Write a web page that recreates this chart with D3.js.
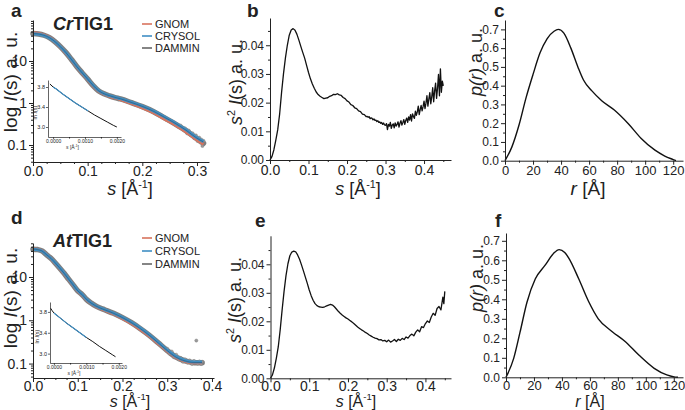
<!DOCTYPE html>
<html><head><meta charset="utf-8">
<script src="https://cdn.jsdelivr.net/npm/d3@7"></script>
<style>
body{margin:0;background:#fff;}
svg{display:block;}
text{font-family:"Liberation Sans",Arial,Helvetica,sans-serif;fill:#222;}
</style>
</head><body>
<svg id="fig" width="685" height="410"></svg>
<script>
// ---------------- DATA ----------------
const legendNames = ["GNOM", "CRYSOL", "DAMMIN"];
const titles = ["Cr", "At"];
const logTicks = [0.1, 1, 10];
const sTicksA = [0, 0.1, 0.2, 0.3];
const sTicksD = [0, 0.1, 0.2, 0.3, 0.4];
const kratkyYTicks = [0, 0.01, 0.02, 0.03, 0.04];
const kratkyXTicks = [0, 0.1, 0.2, 0.3, 0.4];
const prXTicks = [0, 20, 40, 60, 80, 100, 120];
const prYTicks = [0, 0.1, 0.2, 0.3, 0.4, 0.5, 0.6, 0.7];
const insetXTicks = [0, 0.001, 0.002];
const insetYTicks = [3.0, 3.4, 3.8];

// panel a: CrTIG1 scattering
const sA = [0,0.01,0.02,0.03,0.04,0.05,0.06,0.07,0.08,0.09,0.10,0.11,0.12,0.13,0.14,0.15,0.16,0.18,0.20,0.22,0.24,0.26,0.28,0.30,0.312];
const expA = [45,44,41,36,29,22,16,11,7.4,5.2,3.7,2.6,1.95,1.65,1.48,1.35,1.25,1.02,0.82,0.63,0.45,0.32,0.22,0.14,0.11];
const gnomA = [47,45.5,42,36.5,29,21.5,15.5,10.8,7.3,5.1,3.6,2.55,1.92,1.62,1.45,1.32,1.21,0.97,0.77,0.59,0.42,0.30,0.205,0.132,0.105];
const crysolA = [44.5,43.5,40.5,35.5,28.8,21.8,15.9,11,7.45,5.25,3.75,2.65,1.98,1.67,1.5,1.37,1.27,1.04,0.84,0.65,0.47,0.335,0.23,0.148,0.12];
const damminA = [45,44,41,36,29,22,16,11,7.4,5.2,3.7,2.62,1.96,1.66,1.49,1.36,1.26,1.03,0.83,0.64,0.46,0.33,0.225,0.145,0.118];
const tailA = [[0.270,0.29],[0.274,0.24],[0.278,0.25],[0.282,0.19],[0.285,0.22],[0.289,0.17],[0.292,0.19],[0.295,0.145],[0.298,0.17],[0.301,0.125],[0.304,0.15],[0.306,0.115],[0.308,0.135],[0.310,0.095],[0.312,0.125]];
const guinierA = [[-0.0001,3.86],[0.0000,3.80],[0.0001,3.76],[0.0003,3.66],[0.0005,3.57],[0.0007,3.48],[0.0009,3.40],[0.0011,3.32],[0.0013,3.24],[0.0015,3.17],[0.0017,3.10],[0.0019,3.03],[0.0020,3.00]];
const guinierFitA = [[0.0000,3.80],[0.0001,3.76],[0.0003,3.66],[0.0005,3.57],[0.0007,3.48],[0.0009,3.40],[0.0011,3.32]];

// panel d: AtTIG1 scattering
const sD = [0,0.01,0.02,0.03,0.04,0.05,0.06,0.07,0.08,0.09,0.10,0.11,0.12,0.13,0.14,0.15,0.16,0.18,0.20,0.22,0.24,0.26,0.28,0.30,0.32,0.34,0.36,0.378];
const expD = [44,43,40,33,27,21,16,12,8.8,6.5,4.8,3.9,3.0,2.5,2.15,1.92,1.75,1.45,1.15,0.88,0.64,0.45,0.30,0.20,0.14,0.115,0.105,0.105];
const gnomD = [44.5,43.5,40.5,33.2,27,20.8,15.8,11.9,8.7,6.45,4.75,3.85,2.97,2.48,2.12,1.88,1.71,1.41,1.1,0.84,0.61,0.43,0.29,0.195,0.138,0.113,0.104,0.104];
const crysolD = [43.5,42.8,39.8,33,27.1,21.2,16.1,12.1,8.9,6.55,4.85,3.95,3.03,2.52,2.17,1.94,1.77,1.47,1.17,0.9,0.66,0.46,0.31,0.205,0.145,0.118,0.108,0.108];
const damminD = [44,43,40,33,27,21,16,12,8.8,6.5,4.8,3.9,3.0,2.5,2.15,1.92,1.75,1.45,1.15,0.88,0.64,0.45,0.30,0.20,0.14,0.115,0.106,0.106];
const tailD = [[0.30,0.22],[0.305,0.17],[0.31,0.19],[0.315,0.14],[0.32,0.16],[0.325,0.125],[0.33,0.135],[0.335,0.11],[0.34,0.125],[0.345,0.105],[0.35,0.118],[0.355,0.098],[0.36,0.115],[0.365,0.34],[0.368,0.10],[0.372,0.112],[0.376,0.098],[0.378,0.11]];
const guinierD = [[-0.0001,3.87],[-0.00005,3.82],[0.0000,3.78],[0.0002,3.68],[0.0004,3.58],[0.0006,3.49],[0.0008,3.40],[0.0010,3.31],[0.0012,3.23],[0.0014,3.14],[0.0016,3.06],[0.0018,2.98],[0.0019,2.94]];
const guinierFitD = [[0.0000,3.78],[0.0002,3.68],[0.0004,3.58],[0.0006,3.49],[0.0008,3.40],[0.0010,3.31]];

// panel b: Kratky CrTIG1
const kratkyB = [[0,0],[0.005,0.0012],[0.01,0.0035],[0.015,0.0068],[0.02,0.0105],[0.025,0.016],[0.03,0.0235],[0.035,0.030],[0.04,0.0355],[0.045,0.040],[0.05,0.0435],[0.055,0.0453],[0.06,0.0458],[0.065,0.0452],[0.07,0.0438],[0.075,0.0418],[0.08,0.0396],[0.085,0.0375],[0.09,0.0355],[0.095,0.033],[0.1,0.0305],[0.105,0.0283],[0.11,0.0265],[0.115,0.025],[0.12,0.0237],[0.125,0.0228],[0.13,0.0222],[0.135,0.0218],[0.14,0.0214],[0.145,0.0216],[0.15,0.0217],[0.155,0.0222],[0.16,0.0224],[0.165,0.0229],[0.17,0.0228],[0.175,0.0231],[0.18,0.0227],[0.185,0.0225],[0.19,0.0218],[0.195,0.0214],[0.2,0.0206],[0.205,0.0202],[0.21,0.0193],[0.215,0.0190],[0.22,0.0182],[0.225,0.0179],[0.23,0.0171],[0.235,0.0169],[0.24,0.0160],[0.245,0.0158],[0.25,0.0151],
[0.2525,0.0152],[0.255,0.0149],[0.2575,0.0151],[0.26,0.0144],[0.2625,0.0147],[0.265,0.0145],[0.2675,0.0140],[0.27,0.0143],[0.2725,0.0138],[0.275,0.0139],[0.2775,0.0134],[0.28,0.0137],[0.2825,0.0131],[0.285,0.0133],[0.2875,0.0128],[0.29,0.0131],[0.2925,0.0124],[0.295,0.0129],[0.2975,0.0122],
[0.30,0.0121],[0.3025,0.0127],[0.305,0.0106],[0.3075,0.0124],[0.31,0.0118],[0.3125,0.0131],[0.315,0.0110],[0.3175,0.0122],[0.32,0.0126],[0.3225,0.0112],[0.325,0.0129],[0.3275,0.0118],[0.33,0.0124],[0.3325,0.0133],[0.335,0.0115],[0.3375,0.0128],[0.34,0.0137],[0.3425,0.0122],[0.345,0.0131],[0.3475,0.0141],[0.35,0.0124],[0.3525,0.0138],[0.355,0.0146],[0.3575,0.0131],[0.36,0.0150],[0.3625,0.0139],[0.365,0.0158],[0.3675,0.0136],[0.37,0.0161],[0.3725,0.0152],[0.375,0.0145],[0.3775,0.0170],[0.38,0.0156],[0.3825,0.0168],[0.385,0.0188],[0.3875,0.0158],[0.39,0.0176],[0.3925,0.0190],[0.395,0.0171],[0.3975,0.0186],[0.40,0.0205],[0.4025,0.0179],[0.405,0.0198],[0.4075,0.0224],[0.41,0.0188],[0.4125,0.0212],[0.415,0.0235],[0.4175,0.0196],[0.42,0.0220],[0.4225,0.0252],[0.425,0.0203],[0.4275,0.0241],[0.43,0.0268],[0.4325,0.0215],[0.435,0.0250],[0.4375,0.0298],[0.44,0.0224],[0.4425,0.0318],[0.445,0.0236],[0.4475,0.0275],[0.45,0.0258]];

// panel e: Kratky AtTIG1
const kratkyE = [[0,0],[0.005,0.0012],[0.01,0.0036],[0.015,0.0070],[0.02,0.0110],[0.025,0.0170],[0.03,0.0240],[0.035,0.0305],[0.04,0.0360],[0.045,0.0402],[0.05,0.0430],[0.055,0.0443],[0.06,0.0446],[0.065,0.0444],[0.07,0.0433],[0.075,0.0418],[0.08,0.0398],[0.085,0.0377],[0.09,0.0355],[0.095,0.0333],[0.10,0.0310],[0.105,0.0290],[0.11,0.0274],[0.115,0.0262],[0.12,0.0255],[0.125,0.0251],[0.13,0.0250],[0.135,0.0249],[0.14,0.0251],[0.145,0.0254],[0.15,0.0257],[0.155,0.0259],[0.16,0.0257],[0.165,0.0251],[0.17,0.0243],[0.175,0.0235],[0.18,0.0228],[0.185,0.0222],[0.19,0.0217],[0.195,0.0212],[0.20,0.0208],[0.205,0.0203],[0.21,0.0198],[0.215,0.0192],[0.22,0.0186],[0.225,0.0180],[0.23,0.0175],[0.235,0.0170],[0.24,0.0166],[0.245,0.0161],[0.25,0.0157],
[0.255,0.0152],[0.26,0.0148],[0.265,0.0144],[0.27,0.0141],[0.275,0.0139],[0.28,0.0135],[0.285,0.0136],[0.29,0.0131],[0.295,0.0133],[0.30,0.0128],[0.305,0.0134],[0.31,0.0127],[0.315,0.0131],[0.32,0.0136],[0.325,0.0129],[0.33,0.0137],[0.335,0.0133],[0.34,0.0140],[0.345,0.0136],[0.35,0.0145],[0.355,0.0141],[0.36,0.0150],[0.365,0.0155],[0.37,0.0149],[0.375,0.0162],[0.38,0.0170],[0.385,0.0163],[0.39,0.0181],[0.395,0.0178],[0.40,0.0192],[0.405,0.0201],[0.41,0.0196],[0.415,0.0215],[0.42,0.0228],[0.425,0.0221],[0.43,0.0245],[0.435,0.0252],[0.44,0.0240],[0.445,0.0285],[0.4475,0.0262],[0.45,0.0305]];

// panel c / f: pair distance distribution
const prC = [[0,0],[5,0.075],[10,0.19],[15,0.335],[20,0.46],[25,0.575],[30,0.65],[35,0.69],[38,0.7],[42,0.68],[47,0.6],[52,0.5],[56,0.43],[62,0.372],[69,0.32],[78,0.27],[88,0.197],[97,0.12],[107,0.056],[114,0.025],[120,0.006],[122,0]];
const prF = [[0,0],[5.5,0.097],[10,0.23],[15,0.385],[21,0.505],[28,0.575],[34,0.635],[38,0.655],[42,0.64],[45,0.61],[52,0.505],[59,0.39],[66,0.3],[76,0.234],[85,0.185],[95,0.114],[106,0.046],[115,0.012],[121,0.001],[123,0]];

// ---------------- DRAW ----------------
const FONT = '"Liberation Sans", Arial, Helvetica, sans-serif';
const INK = '#222';
const COL = {gnom:'#d8735d', crysol:'#3f8fc4', dammin:'#555', exp:'#7f7f7f'};
const svg = d3.select('#fig');

function styleAxis(g, fs) {
  g.attr('font-family', FONT).attr('font-size', fs);
  g.selectAll('path,line').attr('stroke', INK).attr('stroke-width', 1);
  g.selectAll('text').attr('fill', INK);
}
function xAxis(x, y0, major, minor, fmt, fs, base) {
  if (minor) {
    const gm = svg.append('g').attr('transform', `translate(0,${y0})`)
      .call(d3.axisBottom(x).tickValues(minor).tickSize(2).tickSizeOuter(0).tickFormat(''));
    gm.select('.domain').remove(); styleAxis(gm, fs);
  }
  const pad = base - 4 - 0.71 * fs;
  const g = svg.append('g').attr('transform', `translate(0,${y0})`)
    .call(d3.axisBottom(x).tickValues(major).tickSize(4).tickSizeOuter(0).tickPadding(pad).tickFormat(fmt));
  styleAxis(g, fs);
}
function yAxis(y, x0, major, minor, fmt, fs, pad) {
  if (minor) {
    const gm = svg.append('g').attr('transform', `translate(${x0},0)`)
      .call(d3.axisLeft(y).tickValues(minor).tickSize(2).tickSizeOuter(0).tickFormat(''));
    gm.select('.domain').remove(); styleAxis(gm, fs);
  }
  const g = svg.append('g').attr('transform', `translate(${x0},0)`)
    .call(d3.axisLeft(y).tickValues(major).tickSize(4).tickSizeOuter(0).tickPadding(pad).tickFormat(fmt));
  styleAxis(g, fs);
}
function letter(ch, x, y) {
  svg.append('text').attr('x', x).attr('y', y).attr('font-size', 19).attr('font-weight', 'bold').text(ch);
}
function sLabel(cx, y, fs, sym, unitSup) {
  const t = svg.append('text').attr('x', cx).attr('y', y).attr('text-anchor', 'middle').attr('font-size', fs);
  t.append('tspan').attr('font-style', 'italic').text(sym);
  t.append('tspan').text(' [Å');
  if (unitSup) {
    t.append('tspan').attr('dy', -fs * 0.38).attr('font-size', fs * 0.6).text(unitSup);
    t.append('tspan').attr('dy', fs * 0.38).text(']');
  } else t.append('tspan').text(']');
}
function rotLabel(cx, cy, fs, parts) {
  const t = svg.append('text').attr('transform', `translate(${cx},${cy}) rotate(-90)`)
    .attr('text-anchor', 'middle').attr('font-size', fs);
  parts.forEach(p => {
    const ts = t.append('tspan').text(p.t);
    if (p.i) ts.attr('font-style', 'italic');
    if (p.sup) ts.attr('dy', -fs * 0.38).attr('font-size', fs * 0.6);
    if (p.down) ts.attr('dy', fs * 0.38);
  });
}
function minorLog(dom) {
  const out = [];
  for (let e = -3; e <= 3; e++) for (let m = 2; m <= 9; m++) {
    const v = m * Math.pow(10, e);
    if (v >= dom[0] && v <= dom[1]) out.push(v);
  }
  return out;
}

function scatterPanel(o) {
  const x = d3.scaleLinear().domain(o.xDom).range(o.xRange);
  const y = d3.scaleLog().domain(o.yDom).range(o.yRange);
  const line = d3.line().x(d => x(d[0])).y(d => y(d[1])).curve(d3.curveMonotoneX);
  const zip = arr => o.s.map((s, i) => [s, arr[i]]);
  svg.append('path').datum(zip(o.exp)).attr('d', line).attr('fill', 'none')
    .attr('stroke', COL.exp).attr('stroke-width', 5.5).attr('stroke-linecap', 'round');
  svg.append('g').selectAll('circle').data(o.tail).join('circle')
    .attr('cx', d => x(d[0])).attr('cy', d => y(d[1])).attr('r', 1.6)
    .attr('fill', '#9a9a9a').attr('stroke', '#777').attr('stroke-width', 0.4);
  svg.append('path').datum(zip(o.gnom)).attr('d', line).attr('fill', 'none')
    .attr('stroke', COL.gnom).attr('stroke-width', 3);
  svg.append('path').datum(zip(o.crysol)).attr('d', line).attr('fill', 'none')
    .attr('stroke', COL.crysol).attr('stroke-width', 3);
  svg.append('path').datum(zip(o.dammin)).attr('d', line).attr('fill', 'none')
    .attr('stroke', '#2c4050').attr('stroke-width', 0.8).attr('stroke-opacity', 0.6);
  const minorX = d3.range(0, o.xDom[1] + 1e-9, 0.025).filter(v => Math.abs(v * 10 - Math.round(v * 10)) > 1e-6);
  xAxis(x, o.yRange[0], o.xTicks, minorX, d3.format('.1f'), 14, o.tickBase);
  yAxis(y, o.xRange[0], logTicks, minorLog(o.yDom), d => d < 1 ? '0.1' : String(d), 14, 2);
  const tt = svg.append('text').attr('x', o.titleX).attr('y', o.titleY).attr('font-size', 18).attr('font-weight', 'bold');
  tt.append('tspan').attr('font-style', 'italic').text(o.title);
  tt.append('tspan').text('TIG1');
  const lc = [COL.gnom, COL.crysol, '#666'];
  legendNames.forEach((n, i) => {
    const ly = o.legY + i * o.legDy;
    svg.append('line').attr('x1', 142).attr('x2', 152).attr('y1', ly).attr('y2', ly)
      .attr('stroke', lc[i]).attr('stroke-width', 1.6);
    svg.append('text').attr('x', 155).attr('y', ly + 4).attr('font-size', 11).text(n);
  });
  // inset (Guinier plot)
  const ix = d3.scaleLinear().domain(o.inXDom).range(o.inXRange);
  const iy = d3.scaleLinear().domain(o.inYDom).range(o.inYRange);
  const il = d3.line().x(d => ix(d[0])).y(d => iy(d[1]));
  svg.append('path').datum(o.guinier).attr('d', il).attr('fill', 'none').attr('stroke', '#111').attr('stroke-width', 1);
  svg.append('path').datum(o.guinierFit).attr('d', il).attr('fill', 'none').attr('stroke', COL.crysol).attr('stroke-width', 1.1);
  const gx = svg.append('g').attr('transform', `translate(0,${o.inYRange[0]})`)
    .call(d3.axisBottom(ix).tickValues(insetXTicks).tickSize(2).tickSizeOuter(0).tickPadding(0.5).tickFormat(d3.format('.4f')));
  styleAxis(gx, 5);
  const gxm = svg.append('g').attr('transform', `translate(0,${o.inYRange[0]})`)
    .call(d3.axisBottom(ix).tickValues([0.0005, 0.0015]).tickSize(1.5).tickSizeOuter(0).tickFormat(''));
  gxm.select('.domain').remove(); styleAxis(gxm, 5);
  const gy = svg.append('g').attr('transform', `translate(${o.inXRange[0]},0)`)
    .call(d3.axisLeft(iy).tickValues(insetYTicks).tickSize(2).tickSizeOuter(0).tickPadding(1).tickFormat(d3.format('.1f')));
  styleAxis(gy, 5.5);
  gx.selectAll('path,line').attr('stroke-width', 0.7);
  gy.selectAll('path,line').attr('stroke-width', 0.7);
  const xl = svg.append('text').attr('x', (o.inXRange[0] + o.inXRange[1]) / 2 - 12).attr('y', o.inYRange[0] + 11.5).attr('font-size', 5).attr('text-anchor', 'middle');
  xl.append('tspan').attr('font-style', 'italic').text('s');
  xl.append('tspan').text(' [Å');
  xl.append('tspan').attr('dy', -2).attr('font-size', 3.2).text('-1');
  xl.append('tspan').attr('dy', 2).text(']');
  const yl = svg.append('text').attr('transform', `translate(${o.inXRange[0] - 11},${(o.inYRange[0] + o.inYRange[1]) / 2 + 4}) rotate(-90)`)
    .attr('font-size', 5.5).attr('text-anchor', 'middle');
  yl.append('tspan').text('ln ');
  yl.append('tspan').attr('font-style', 'italic').text('I');
  yl.append('tspan').text('(s)');
  rotLabel(o.yLabX, o.yLabY, 19, [{t: 'log '}, {t: 'I', i: true}, {t: '(s) a. u.'}]);
  sLabel(o.xLabX, o.xLabY, o.xLabFs, 's', '-1');
}

function kratkyPanel(o) {
  const x = d3.scaleLinear().domain(o.xDom).range(o.xRange);
  const y = d3.scaleLinear().domain(o.yDom).range(o.yRange);
  const line = d3.line().x(d => x(d[0])).y(d => y(d[1]));
  svg.append('path').datum(o.data).attr('d', line).attr('fill', 'none').attr('stroke', '#111').attr('stroke-width', 1.3).attr('stroke-linejoin', 'round');
  xAxis(x, o.yRange[0], kratkyXTicks, [0.05, 0.15, 0.25, 0.35, 0.45], d3.format('.1f'), 14, o.tickBase);
  yAxis(y, o.xRange[0], kratkyYTicks, [0.005, 0.015, 0.025, 0.035, 0.045], d3.format('.2f'), 12, 2);
  rotLabel(o.yLabX, o.yLabY, 18, [{t: 's', i: true}, {t: '2', sup: true}, {t: ' ', down: true}, {t: 'I', i: true}, {t: '(s) a. u.'}]);
  sLabel(o.xLabX, o.xLabY, o.xLabFs, 's', '-1');
}

function prPanel(o) {
  const x = d3.scaleLinear().domain(o.xDom).range(o.xRange);
  const y = d3.scaleLinear().domain(o.yDom).range(o.yRange);
  const line = d3.line().x(d => x(d[0])).y(d => y(d[1])).curve(d3.curveMonotoneX);
  svg.append('path').datum(o.data).attr('d', line).attr('fill', 'none').attr('stroke', '#111').attr('stroke-width', 1.4);
  xAxis(x, o.yRange[0], prXTicks, [10, 30, 50, 70, 90, 110], d3.format('d'), 13, o.tickBase);
  yAxis(y, o.xRange[0], prYTicks, [0.05, 0.15, 0.25, 0.35, 0.45, 0.55, 0.65], d3.format('.1f'), 12, 2);
  rotLabel(o.yLabX, o.yLabY, 18, [{t: 'p(r)', i: true}, {t: ' a. u.'}]);
  sLabel(o.xLabX, o.xLabY, o.xLabFs, 'r', null);
}

// panel a
scatterPanel({
  s: sA, exp: expA, gnom: gnomA, crysol: crysolA, dammin: damminA, tail: tailA,
  xDom: [0, 0.322], xRange: [33, 209], yDom: [0.0394, 94.6], yRange: [162, 20], xTicks: sTicksA, tickBase: 14,
  title: titles[0], titleX: 53, titleY: 30, legY: 24, legDy: 12,
  guinier: guinierA, guinierFit: guinierFitA,
  inXDom: [-0.00016, 0.00213], inXRange: [48, 121], inYDom: [2.8, 3.94], inYRange: [137, 80],
  yLabX: 17, yLabY: 82, xLabX: 130, xLabY: 195, xLabFs: 18
});
// panel d
scatterPanel({
  s: sD, exp: expD, gnom: gnomD, crysol: crysolD, dammin: damminD, tail: tailD,
  xDom: [0, 0.4045], xRange: [33, 214], yDom: [0.0464, 61], yRange: [378, 243], xTicks: sTicksD, tickBase: 13,
  title: titles[1], titleX: 53, titleY: 247, legY: 238, legDy: 13,
  guinier: guinierD, guinierFit: guinierFitD,
  inXDom: [-0.00012, 0.0021], inXRange: [50, 122], inYDom: [2.82, 3.99], inYRange: [363, 302],
  yLabX: 17, yLabY: 298, xLabX: 130, xLabY: 406.5, xLabFs: 16
});
// panel b
kratkyPanel({ data: kratkyB, xDom: [0, 0.47], xRange: [270, 451], yDom: [0, 0.0495], yRange: [160, 18],
  yLabX: 242, yLabY: 82, xLabX: 358, xLabY: 195, xLabFs: 18, tickBase: 15 });
// panel e
kratkyPanel({ data: kratkyE, xDom: [0, 0.466], xRange: [270.5, 451], yDom: [0, 0.05], yRange: [378.3, 235.8],
  yLabX: 241, yLabY: 300, xLabX: 356, xLabY: 406.5, xLabFs: 16, tickBase: 13 });
// panel c
prPanel({ data: prC, xDom: [0, 127], xRange: [505, 683], yDom: [0, 0.75], yRange: [160.7, 20],
  yLabX: 482, yLabY: 62, xLabX: 588, xLabY: 195, xLabFs: 19, tickBase: 14 });
// panel f
prPanel({ data: prF, xDom: [0, 126.6], xRange: [506, 683], yDom: [0, 0.74], yRange: [377.3, 233],
  yLabX: 483, yLabY: 278, xLabX: 590, xLabY: 406.5, xLabFs: 16, tickBase: 12.5 });

letter('a', 11, 17); letter('b', 247, 17); letter('c', 494, 17);
letter('d', 11, 224); letter('e', 255, 227); letter('f', 495, 227);
</script>
</body></html>
